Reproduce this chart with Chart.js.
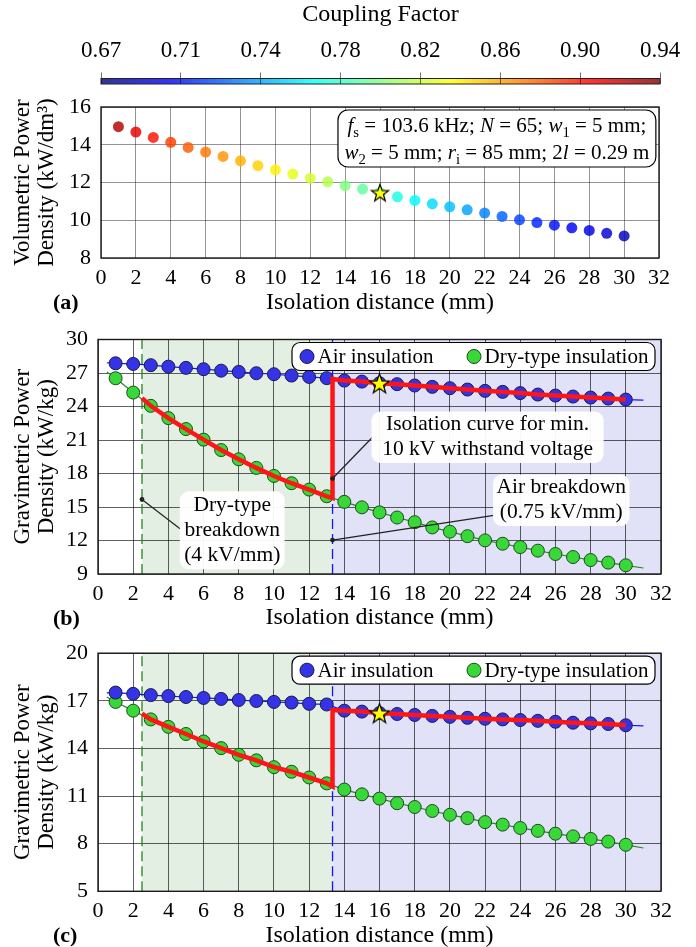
<!DOCTYPE html>
<html>
<head>
<meta charset="utf-8">
<title>Power density vs isolation distance</title>
<script src="https://cdn.jsdelivr.net/npm/chart.js@4.4.1/dist/chart.umd.min.js"></script>
<style>
  html, body { margin: 0; padding: 0; background: #fff; }
  body { position: relative; width: 696px; height: 947px; overflow: hidden; }
  canvas { position: absolute; left: 0; }
</style>
</head>
<body>
<canvas id="colorbar" width="696" height="92" style="top:0"></canvas>
<canvas id="panel-a" width="696" height="238" style="top:82px"></canvas>
<canvas id="panel-b" width="696" height="320" style="top:316px"></canvas>
<canvas id="panel-c" width="696" height="317" style="top:630px"></canvas>
<script>
const SERIF = '"Liberation Serif", "Times New Roman", serif';
Chart.defaults.font.family = SERIF;
Chart.defaults.color = '#000';
Chart.defaults.animation = false;

// isolation distance (mm)
const distance = [1, 2, 3, 4, 5, 6, 7, 8, 9, 10, 11, 12, 13, 14, 15, 16, 17, 18, 19, 20, 21, 22, 23, 24, 25, 26, 27, 28, 29, 30];

// (a) volumetric power density (kW/dm3) and coupling factor
const volumetricDensity = [14.96, 14.67, 14.39, 14.13, 13.86, 13.61, 13.38, 13.15, 12.89, 12.67, 12.45, 12.23, 12.04, 11.83, 11.65, 11.47, 11.24, 11.05, 10.87, 10.71, 10.55, 10.38, 10.20, 10.02, 9.88, 9.74, 9.60, 9.46, 9.31, 9.17];
const couplingFactor = [0.926, 0.913, 0.902, 0.891, 0.883, 0.875, 0.867, 0.859, 0.851, 0.843, 0.832, 0.827, 0.819, 0.805, 0.797, 0.789, 0.778, 0.770, 0.762, 0.754, 0.746, 0.738, 0.729, 0.721, 0.713, 0.708, 0.702, 0.697, 0.692, 0.686];
const couplingTicks = ['0.67', '0.71', '0.74', '0.78', '0.82', '0.86', '0.90', '0.94'];
const couplingMin = 0.67;
const couplingMax = 0.94;

// (b) gravimetric power density (kW/kg)
const airDensityB = [27.87, 27.81, 27.70, 27.57, 27.46, 27.34, 27.21, 27.10, 26.98, 26.89, 26.77, 26.65, 26.54, 26.32, 26.23, 26.09, 26.00, 25.88, 25.76, 25.64, 25.52, 25.40, 25.31, 25.20, 25.07, 24.98, 24.89, 24.80, 24.71, 24.62];
const dryDensityB = [26.53, 25.25, 24.06, 22.96, 21.98, 21.03, 20.10, 19.27, 18.50, 17.78, 17.13, 16.56, 15.96, 15.46, 14.97, 14.52, 14.06, 13.64, 13.17, 12.79, 12.39, 12.01, 11.71, 11.41, 11.09, 10.79, 10.52, 10.25, 10.02, 9.78];

// (c) gravimetric power density (kW/kg)
const airDensityC = [17.52, 17.44, 17.36, 17.30, 17.24, 17.18, 17.12, 17.05, 16.99, 16.93, 16.89, 16.81, 16.77, 16.38, 16.32, 16.23, 16.17, 16.11, 16.05, 15.99, 15.93, 15.87, 15.83, 15.79, 15.74, 15.68, 15.62, 15.58, 15.54, 15.46];
const dryDensityC = [16.93, 16.38, 15.83, 15.36, 14.91, 14.44, 14.02, 13.60, 13.25, 12.82, 12.53, 12.17, 11.80, 11.41, 11.11, 10.84, 10.55, 10.31, 10.06, 9.82, 9.61, 9.36, 9.20, 8.99, 8.81, 8.63, 8.46, 8.30, 8.13, 7.93];

// fitted curves run a bit past the data at both ends
const fitX = [0.5, 31];
const airFitB = [27.92, 24.57];
const dryFitB = [27.10, 9.54];
const airFitC = [17.50, 15.42];
const dryFitC = [17.24, 7.73];

// 10 kV withstand: 4 kV/mm dry-type, 0.75 kV/mm air
const dryBreakdown = 2.5;
const airBreakdown = 13.33;
// isolation curve: dry at 2.5 mm, dry at 13.33 mm, air at 13.33 mm
const isoKneeB = [24.75, 15.80, 26.45];
const isoKneeC = [16.20, 11.60, 16.42];
const optimum = 16;

function jet(v, alpha) {
  const t = (v - couplingMin) / (couplingMax - couplingMin);
  const c = k => Math.round(255 * Math.min(1, Math.max(0, 1.5 - Math.abs(4 * t - k))));
  return `rgba(${c(3)},${c(2)},${c(1)},${alpha})`;
}

function makeStar(r) {
  const cv = document.createElement('canvas');
  const s = Math.ceil(r * 2 + 4);
  cv.width = s; cv.height = s;
  const g = cv.getContext('2d');
  g.beginPath();
  for (let i = 0; i < 10; i++) {
    const rad = i % 2 ? r * 0.4 : r;
    const a = -Math.PI / 2 + i * Math.PI / 5;
    g.lineTo(s / 2 + rad * Math.cos(a), s / 2 + rad * Math.sin(a) + r * 0.1);
  }
  g.closePath();
  g.fillStyle = '#ffff00';
  g.fill();
  g.lineWidth = 1.2;
  g.strokeStyle = '#000';
  g.stroke();
  return cv;
}

const pts = arr => distance.map((x, i) => ({ x, y: arr[i] }));

function xAxis(height, titlePad, gridColor) {
  return {
    type: 'linear', min: 0, max: 32,
    afterFit: s => { s.height = height; },
    grid: { color: gridColor, drawTicks: false, lineWidth: 1 },
    border: { display: false },
    ticks: { stepSize: 2, padding: 7, font: { size: 22 }, maxRotation: 0 },
    title: { display: true, text: 'Isolation distance (mm)', font: { size: 24, lineHeight: 0.9 }, padding: { top: 0, bottom: titlePad } }
  };
}

function yAxis(min, max, step, text, width, gridColor) {
  return {
    type: 'linear', min, max,
    afterFit: s => { s.width = width; },
    grid: { color: gridColor, drawTicks: false, lineWidth: 1 },
    border: { display: false },
    ticks: { stepSize: step, padding: 10, font: { size: 22 } },
    title: { display: true, text, font: { size: 23, lineHeight: 1.05 }, padding: { top: 11, bottom: 0 } }
  };
}

function drawFrame(chart, label) {
  const { ctx, chartArea: a } = chart;
  ctx.save();
  ctx.strokeStyle = '#1a1a1a';
  ctx.lineWidth = 1.4;
  ctx.strokeRect(a.left, a.top, a.right - a.left, a.bottom - a.top);
  ctx.font = `bold 22px ${SERIF}`;
  ctx.fillStyle = '#000';
  ctx.textAlign = 'left';
  ctx.textBaseline = 'middle';
  ctx.fillText(label, 53, a.bottom + 45);
  ctx.restore();
}

function drawRich(ctx, runs, cx, cy, size) {
  const fontFor = r => `${r[1] === 'i' ? 'italic ' : ''}${r[1] === 's' ? size * 0.7 : size}px ${SERIF}`;
  let total = 0;
  runs.forEach(r => { ctx.font = fontFor(r); total += ctx.measureText(r[0]).width; });
  let x = cx - total / 2;
  ctx.textAlign = 'left';
  ctx.textBaseline = 'alphabetic';
  runs.forEach(r => {
    ctx.font = fontFor(r);
    ctx.fillText(r[0], x, cy + size * 0.33 + (r[1] === 's' ? size * 0.22 : 0));
    x += ctx.measureText(r[0]).width;
  });
}

// colour bar
new Chart(document.getElementById('colorbar'), {
  type: 'scatter',
  data: { datasets: [] },
  options: {
    responsive: false, events: [],
    layout: { padding: { left: 101, right: 36, top: 0, bottom: 8 } },
    plugins: { legend: { display: false }, tooltip: { enabled: false } },
    scales: {
      x: {
        type: 'linear', position: 'top', min: 0, max: couplingTicks.length - 1,
        afterFit: s => { s.height = 78.5; },
        ticks: { stepSize: 1, padding: 8, font: { size: 23 }, maxRotation: 0, autoSkip: false,
                 callback: v => couplingTicks[v] },
        grid: { color: 'rgba(0,0,0,0.55)', tickLength: 6 },
        border: { display: false },
        title: { display: true, text: 'Coupling Factor', font: { size: 24, lineHeight: 1.1 }, padding: { top: 2, bottom: 0 } }
      },
      y: { display: false, min: 0, max: 1 }
    }
  },
  plugins: [{
    id: 'jetbar',
    beforeDraw(chart) {
      const { ctx, chartArea: a, scales: { x } } = chart;
      const grad = ctx.createLinearGradient(a.left, 0, a.right, 0);
      for (let k = 0; k <= 40; k++) {
        grad.addColorStop(k / 40, jet(couplingMin + (couplingMax - couplingMin) * k / 40, 0.8));
      }
      ctx.save();
      ctx.fillStyle = grad;
      ctx.fillRect(x.left, a.top, x.right - x.left, a.bottom - a.top);
      ctx.restore();
    },
    afterDraw(chart) {
      const { ctx, chartArea: a } = chart;
      ctx.save();
      ctx.strokeStyle = '#222';
      ctx.lineWidth = 1;
      ctx.strokeRect(a.left, a.top, a.right - a.left, a.bottom - a.top);
      ctx.restore();
    }
  }]
});

// (a)
const starA = makeStar(9);
const starBC = makeStar(10.5);
const infoLines = [
  [['f', 'i'], ['s', 's'], [' = 103.6 kHz; ', ''], ['N', 'i'], [' = 65; ', ''], ['w', 'i'], ['1', 's'], [' = 5 mm;', '']],
  [['w', 'i'], ['2', 's'], [' = 5 mm; ', ''], ['r', 'i'], ['i', 's'], [' = 85 mm; 2', ''], ['l', 'i'], [' = 0.29 m', '']]
];

new Chart(document.getElementById('panel-a'), {
  type: 'scatter',
  data: {
    datasets: [
      { data: [{ x: optimum, y: volumetricDensity[distance.indexOf(optimum)] }], pointStyle: starA, pointRadius: 9, order: 0 },
      { data: pts(volumetricDensity), pointRadius: 5.5, pointBorderWidth: 0,
        pointBackgroundColor: couplingFactor.map(c => jet(c, 0.82)), order: 1 }
    ]
  },
  options: {
    responsive: false, events: [],
    layout: { padding: { left: 0, right: 37, top: 25, bottom: 0 } },
    plugins: { legend: { display: false }, tooltip: { enabled: false } },
    scales: {
      x: xAxis(62, 6, 'rgba(0,0,0,0.42)'),
      y: yAxis(8, 16, 2, ['Volumetric Power', 'Density (kW/dm³)'], 101, 'rgba(0,0,0,0.42)')
    }
  },
  plugins: [{
    id: 'decorA',
    afterDraw(chart) {
      const { ctx, scales: { x, y } } = chart;
      const x1 = x.getPixelForValue(13.59), x2 = x.getPixelForValue(31.82);
      const y1 = y.getPixelForValue(15.84), y2 = y.getPixelForValue(12.82);
      drawFrame(chart, '(a)');
      ctx.save();
      ctx.beginPath();
      ctx.roundRect(x1, y1, x2 - x1, y2 - y1, 10);
      ctx.fillStyle = '#fff';
      ctx.fill();
      ctx.strokeStyle = '#000';
      ctx.lineWidth = 1.2;
      ctx.stroke();
      ctx.fillStyle = '#000';
      const cx = (x1 + x2) / 2, cy = (y1 + y2) / 2;
      drawRich(ctx, infoLines[0], cx, cy - 13, 21);
      drawRich(ctx, infoLines[1], cx, cy + 13.5, 21);
      ctx.restore();
    }
  }]
});

// (b) and (c)
function gravimetricPanel(id, cfg) {
  const { air, dry, airFit, dryFit, knee, yMin, yMax, topPad, xHeight, titlePad, label, notes } = cfg;
  const iso = [{ x: dryBreakdown, y: knee[0] }]
    .concat(pts(dry).filter(p => p.x > dryBreakdown && p.x < airBreakdown))
    .concat([{ x: airBreakdown, y: knee[1] }, { x: airBreakdown, y: knee[2] }])
    .concat(pts(air).filter(p => p.x > airBreakdown));
  const fitLine = (arr, ends) => [{ x: fitX[0], y: ends[0] }].concat(pts(arr), [{ x: fitX[1], y: ends[1] }]);
  const grid = 'rgba(0,0,0,0.62)';

  new Chart(document.getElementById(id), {
    type: 'scatter',
    data: {
      datasets: [
        { data: [{ x: optimum, y: air[distance.indexOf(optimum)] }], pointStyle: starBC, pointRadius: 10, order: 0 },
        { data: iso, showLine: true, borderColor: '#ff1515', borderWidth: 4.5, pointRadius: 0, order: 1 },
        { data: pts(air), pointRadius: 6.5, pointBorderWidth: 1, pointBackgroundColor: '#3434e6', pointBorderColor: '#1c1c48', order: 2 },
        { data: pts(dry), pointRadius: 6.5, pointBorderWidth: 1, pointBackgroundColor: '#38d838', pointBorderColor: '#1e4a1e', order: 2 },
        { data: fitLine(air, airFit), showLine: true, borderColor: '#1414ff', borderWidth: 1.2, pointRadius: 0, order: 3 },
        { data: fitLine(dry, dryFit), showLine: true, borderColor: '#238a23', borderWidth: 1.2, pointRadius: 0, order: 3 }
      ]
    },
    options: {
      responsive: false, events: [],
      layout: { padding: { left: 0, right: 35, top: topPad, bottom: 0 } },
      plugins: { legend: { display: false }, tooltip: { enabled: false } },
      scales: {
        x: xAxis(xHeight, titlePad, grid),
        y: yAxis(yMin, yMax, 3, ['Gravimetric Power', 'Density (kW/kg)'], 98, grid)
      }
    },
    plugins: [{
      id: 'decor' + id,
      beforeDraw(chart) {
        const { ctx, chartArea: a, scales: { x } } = chart;
        const xd = x.getPixelForValue(dryBreakdown), xa = x.getPixelForValue(airBreakdown);
        ctx.save();
        ctx.fillStyle = '#e4efe4';
        ctx.fillRect(xd, a.top, xa - xd, a.bottom - a.top);
        ctx.fillStyle = '#e1e1f8';
        ctx.fillRect(xa, a.top, a.right - xa, a.bottom - a.top);
        ctx.restore();
      },
      beforeDatasetsDraw(chart) {
        const { ctx, chartArea: a, scales: { x } } = chart;
        ctx.save();
        ctx.lineWidth = 1.3;
        ctx.setLineDash([10, 5]);
        [[dryBreakdown, '#1b8a1b'], [airBreakdown, '#1414ff']].forEach(([v, col]) => {
          const px = x.getPixelForValue(v);
          ctx.strokeStyle = col;
          ctx.beginPath();
          ctx.moveTo(px, a.bottom);
          ctx.lineTo(px, a.top);
          ctx.stroke();
        });
        ctx.restore();
      },
      afterDatasetsDraw(chart) {
        const { ctx, chartArea: a, scales: { x, y } } = chart;
        ctx.save();
        notes.forEach(n => {
          const fx = x.getPixelForValue(n.from[0]), fy = y.getPixelForValue(n.from[1]);
          const tx = x.getPixelForValue(n.to[0]), ty = y.getPixelForValue(n.to[1]);
          ctx.strokeStyle = '#222';
          ctx.lineWidth = 1.2;
          ctx.beginPath();
          ctx.moveTo(fx, fy);
          ctx.lineTo(tx, ty);
          ctx.stroke();
          ctx.fillStyle = '#222';
          ctx.beginPath();
          ctx.arc(tx, ty, 2.4, 0, Math.PI * 2);
          ctx.fill();
          const bx1 = x.getPixelForValue(n.box[0]), by1 = y.getPixelForValue(n.box[1]);
          const bx2 = x.getPixelForValue(n.box[2]), by2 = y.getPixelForValue(n.box[3]);
          ctx.fillStyle = 'rgba(255,255,255,0.95)';
          ctx.beginPath();
          ctx.roundRect(bx1, by1, bx2 - bx1, by2 - by1, 9);
          ctx.fill();
          ctx.fillStyle = '#000';
          ctx.font = `21.5px ${SERIF}`;
          ctx.textAlign = 'center';
          ctx.textBaseline = 'middle';
          const cy = (by1 + by2) / 2, cx = (bx1 + bx2) / 2;
          n.lines.forEach((t, i) => ctx.fillText(t, cx, cy + (i - (n.lines.length - 1) / 2) * 25));
        });

        // legend
        const w = 363, h = 28, lx = a.right - 6 - w, ly = a.top + 3;
        ctx.beginPath();
        ctx.roundRect(lx, ly, w, h, 8);
        ctx.fillStyle = '#fff';
        ctx.fill();
        ctx.strokeStyle = '#000';
        ctx.lineWidth = 1.2;
        ctx.stroke();
        [[15, '#3434e6', '#1c1c48', 'Air insulation'], [182, '#38d838', '#1e4a1e', 'Dry-type insulation']].forEach(([dx, fill, edge, text]) => {
          ctx.beginPath();
          ctx.arc(lx + dx, ly + h / 2, 7, 0, Math.PI * 2);
          ctx.fillStyle = fill;
          ctx.fill();
          ctx.strokeStyle = edge;
          ctx.lineWidth = 1;
          ctx.stroke();
          ctx.fillStyle = '#000';
          ctx.font = `21px ${SERIF}`;
          ctx.textAlign = 'left';
          ctx.textBaseline = 'middle';
          ctx.fillText(text, lx + dx + 10.5, ly + h / 2 + 1);
        });
        ctx.restore();
      },
      afterDraw(chart) { drawFrame(chart, label); }
    }]
  });
}

gravimetricPanel('panel-b', {
  air: airDensityB, dry: dryDensityB, airFit: airFitB, dryFit: dryFitB, knee: isoKneeB,
  yMin: 9, yMax: 30, topPad: 23.5, xHeight: 62, titlePad: 7, label: '(b)',
  notes: [
    { lines: ['Isolation curve for min.', '10 kV withstand voltage'], box: [15.54, 23.55, 28.74, 18.94], from: [15.6, 21.25], to: [airBreakdown, 17.55] },
    { lines: ['Air breakdown', '(0.75 kV/mm)'], box: [22.45, 17.9, 30.21, 13.29], from: [22.5, 14.25], to: [airBreakdown, 12.04] },
    { lines: ['Dry-type', 'breakdown', '(4 kV/mm)'], box: [4.65, 16.41, 10.61, 9.42], from: [4.7, 13.0], to: [dryBreakdown, 15.67] }
  ]
});

gravimetricPanel('panel-c', {
  air: airDensityC, dry: dryDensityC, airFit: airFitC, dryFit: dryFitC, knee: isoKneeC,
  yMin: 5, yMax: 20, topPad: 17.3, xHeight: 55.7, titlePad: 0.5, label: '(c)',
  notes: []
});
</script>
</body>
</html>
